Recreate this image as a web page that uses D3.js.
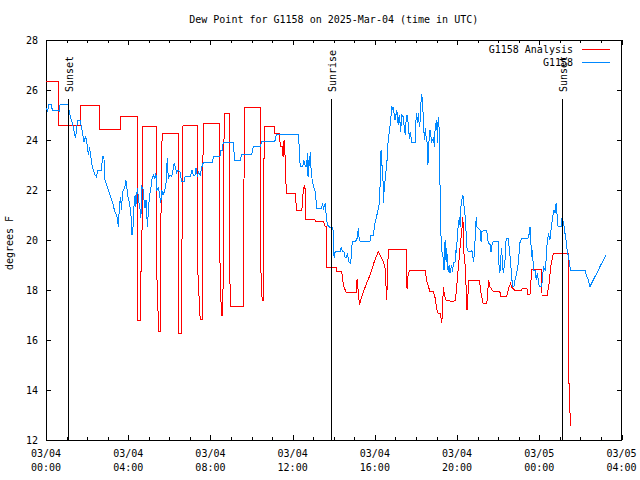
<!DOCTYPE html>
<html><head><meta charset="utf-8">
<script src="https://cdn.jsdelivr.net/npm/d3@7"></script>
<style>
body{margin:0;background:#fff}
svg{display:block}
text{font-family:"DejaVu Sans Mono",monospace;font-size:10px;fill:#000}
</style>
</head><body><svg id="c" width="640" height="480"></svg>
<script>
const chartTitle = "Dew Point for G1158 on 2025-Mar-04 (time in UTC)";
const yAxisLabel = "degrees F";
const startTime = "2025-03-04T00:00:00Z";
const endTime = "2025-03-05T04:00:00Z";
const yTicks = [12, 14, 16, 18, 20, 22, 24, 26, 28];
const seriesNames = ["G1158 Analysis", "G1158"];

// minutes after 2025-03-04 00:00 UTC
const anaMinutes = [0,37,37,100,100,156,157,217,219,267,267,275,275,280,281,324,324,329,335,335,339,386,387,388,395,396,400,443,443,450,457,457,459,506,506,508,512,515,518,520,535,535,539,577,577,579,625,625,631,634,637,668,668,683,683,685,691,692,695,697,700,702,727,732,747,750,754,757,759,785,787,810,815,819,820,848,849,863,867,871,877,907,908,911,915,923,934,946,958,970,975,985,991,994,997,999,1051,1052,1054,1057,1061,1107,1112,1115,1121,1131,1136,1141,1145,1150,1153,1155,1157,1160,1163,1168,1188,1195,1199,1203,1209,1214,1217,1219,1224,1229,1231,1234,1265,1270,1276,1287,1292,1296,1306,1325,1327,1345,1351,1356,1361,1370,1389,1390,1404,1405,1413,1418,1447,1448,1463,1468,1474,1481,1524,1525,1526,1529,1530,1531];
const anaValues = [26.35,26.35,24.6,24.6,25.39,25.39,24.43,24.43,24.95,24.95,16.8,16.8,18.73,18.73,24.56,24.56,18.4,16.35,16.35,20.33,24.27,24.27,20.3,16.27,16.27,18.4,24.6,24.6,18.8,16.84,16.84,20.77,24.67,24.67,22.84,19.0,17.0,17.0,18.8,25.07,25.07,19.33,17.36,17.36,19.33,25.3,25.3,19.53,17.6,17.6,24.53,24.53,24.27,24.27,23.93,23.73,23.73,23.33,24.0,23.73,22.4,21.87,21.87,21.2,21.2,21.8,22.2,22.0,20.83,20.83,20.73,20.73,20.53,20.53,18.9,18.9,18.76,18.76,18.33,18.07,17.9,17.9,18.43,18.0,17.4,17.8,18.2,18.6,19.12,19.53,19.4,19.13,18.8,17.6,18.4,19.63,19.63,19.2,18.03,18.6,18.77,18.77,18.33,18.2,17.93,17.93,17.68,17.2,17.07,17.07,16.88,16.67,17.0,18.13,17.8,17.6,17.53,17.6,18.13,18.8,19.73,20.4,20.93,19.6,18.93,17.2,17.6,18.4,18.4,17.87,17.47,17.47,18.4,18.13,17.93,17.93,17.76,17.76,18.08,18.27,18.08,17.97,17.97,18.07,18.07,17.84,17.84,18.83,18.83,17.8,17.8,18.2,19.0,19.47,19.47,17.73,14.27,14.27,12.56,12.56];

const obsMinutes = [2,4,9,15,19,39,41,65,66,71,77,83,86,92,100,102,105,111,116,120,124,127,132,134,138,143,147,152,163,164,169,172,179,187,194,201,206,209,211,213,217,221,222,225,230,233,236,238,244,247,249,251,254,257,260,262,265,267,271,275,277,280,283,286,289,292,294,296,299,302,306,309,313,318,321,323,328,331,335,338,342,347,350,354,357,362,367,371,374,379,381,386,391,396,403,406,421,426,430,435,438,442,445,450,455,459,487,488,508,510,516,517,546,551,567,572,601,605,625,630,668,673,737,742,750,752,757,761,763,765,767,770,771,774,777,781,785,791,805,807,810,815,817,819,821,829,837,839,841,844,858,863,865,870,873,877,880,883,888,891,894,907,912,914,917,946,948,956,959,963,968,973,976,978,981,983,985,987,990,995,999,1004,1007,1009,1012,1014,1016,1019,1024,1025,1028,1031,1033,1035,1039,1043,1046,1049,1052,1055,1058,1061,1063,1068,1078,1079,1081,1084,1087,1090,1092,1094,1097,1100,1102,1105,1107,1110,1113,1115,1117,1121,1126,1131,1134,1136,1141,1142,1145,1148,1150,1152,1155,1158,1160,1162,1165,1168,1170,1172,1174,1177,1179,1184,1187,1189,1194,1197,1199,1200,1203,1207,1209,1211,1214,1217,1219,1221,1224,1227,1229,1233,1243,1245,1248,1251,1253,1256,1258,1262,1267,1270,1272,1277,1287,1289,1292,1297,1299,1302,1306,1320,1322,1325,1327,1330,1333,1335,1340,1343,1346,1349,1352,1356,1359,1362,1366,1369,1374,1378,1381,1383,1388,1407,1411,1413,1415,1418,1420,1423,1428,1431,1434,1437,1440,1447,1449,1452,1457,1460,1462,1467,1470,1471,1473,1476,1479,1483,1486,1489,1491,1493,1495,1505,1506,1508,1510,1513,1515,1518,1520,1525,1527,1531,1534,1574,1577,1583,1588,1593,1600,1608,1617,1627,1635];
const obsValues = [25.27,25.13,25.44,25.42,25.17,25.16,25.42,25.42,25.27,24.93,24.67,24.27,24.07,24.77,24.77,24.6,24.4,23.93,24.16,23.8,23.4,23.72,23.2,23.0,22.8,22.6,22.53,22.8,22.8,23.33,23.33,22.4,22.12,21.8,21.52,21.12,21.0,20.8,20.53,21.0,21.73,21.2,21.6,22.0,22.08,22.4,22.12,21.8,21.48,21.07,20.88,20.2,20.53,21.4,21.8,21.32,21.8,22.07,21.52,21.2,20.87,22.13,22.07,21.6,21.27,21.6,21.07,20.53,21.2,21.73,22.07,22.4,22.6,22.47,22.67,22.0,22.07,21.87,21.47,22.0,21.8,22.0,22.2,23.27,22.47,22.6,22.53,22.8,23.07,22.87,22.67,22.8,22.73,22.33,22.33,22.53,22.53,22.8,22.6,22.6,22.87,22.53,22.72,22.6,22.92,23.09,23.09,23.33,23.36,23.6,23.6,23.91,23.91,23.2,23.2,23.44,23.44,23.73,23.73,23.95,23.95,24.24,24.24,22.96,22.96,23.2,22.96,22.96,23.48,22.53,23.2,22.96,23.53,22.8,22.4,22.13,22.0,21.27,21.27,21.49,21.27,21.47,21.13,20.93,20.6,20.51,20.51,20.28,19.27,19.53,19.53,19.73,19.53,19.52,19.32,19.32,19.47,19.16,19.07,19.28,19.93,19.97,20.47,20.08,19.96,19.96,20.2,20.2,20.6,20.8,21.13,21.47,22.4,23.6,22.93,23.0,21.47,22.0,22.4,23.07,24.0,24.53,24.93,25.36,25.2,25.33,25.08,24.8,25.2,25.07,24.6,25.0,24.8,24.33,25.0,24.93,24.47,24.2,25.0,25.0,24.53,24.03,24.33,23.92,23.92,24.4,25.07,24.67,25.07,24.53,24.73,25.4,25.84,25.32,24.53,24.0,24.48,24.07,23.87,23.0,23.8,24.4,23.93,24.07,23.73,24.53,24.8,23.87,24.93,24.4,22.4,20.53,19.53,19.47,19.13,18.8,20.0,19.13,19.67,19.0,18.73,19.0,18.67,19.0,18.73,19.07,19.13,19.6,19.47,20.0,20.53,20.93,20.53,21.33,21.6,21.8,21.6,21.2,20.93,20.13,19.67,19.53,19.57,19.47,19.13,19.53,20.13,20.93,20.53,20.47,20.4,19.93,20.33,20.37,20.37,20.0,19.87,19.8,19.53,19.8,19.96,19.96,19.07,18.67,19.2,19.67,19.0,18.67,19.2,20.0,20.07,20.07,19.73,19.13,18.6,18.13,18.13,18.4,18.67,19.0,19.47,19.87,20.07,20.07,20.27,20.53,20.0,19.32,19.6,18.8,18.8,18.4,18.67,18.4,18.13,18.13,18.4,18.93,18.8,19.2,19.73,20.27,20.07,20.0,20.27,20.6,20.93,21.2,21.07,21.47,21.2,20.8,20.53,20.53,20.87,20.8,20.73,20.48,20.27,20.0,19.73,19.33,19.2,18.8,18.77,18.77,18.6,18.4,18.13,18.27,18.47,18.67,18.93,19.2,19.4];

const eventLabels = ["Sunset", "Sunrise", "Sunset"];
const eventMinutes = [65, 832, 1507];

const colors = ["#ff0000", "#0088ff"];
const L = 46, R = 621.5, T = 40, B = 440;

const svg = d3.select("#c");
const t0 = new Date(startTime), t1 = new Date(endTime);
const toDate = m => new Date(t0.getTime() + m * 60000);
const x = d3.scaleUtc().domain([t0, t1]).range([L, R]);
const y = d3.scaleLinear().domain([12, 28]).range([B, T]);

const majorTicks = x.ticks(d3.utcHour.every(4));
const minorTicks = x.ticks(d3.utcHour.every(1));

function clean(g){ g.select(".domain").remove(); g.selectAll("line").attr("stroke","#000").attr("shape-rendering","crispEdges"); }

svg.append("g").attr("transform",`translate(0,${B})`).call(d3.axisBottom(x).tickValues(minorTicks).tickSize(-3).tickFormat("")).call(clean);
svg.append("g").attr("transform",`translate(0,${B})`).call(d3.axisBottom(x).tickValues(majorTicks).tickSize(-5).tickFormat("")).call(clean);
svg.append("g").attr("transform",`translate(0,${T})`).call(d3.axisTop(x).tickValues(minorTicks).tickSize(-3).tickFormat("")).call(clean);
svg.append("g").attr("transform",`translate(0,${T})`).call(d3.axisTop(x).tickValues(majorTicks).tickSize(-5).tickFormat("")).call(clean);
svg.append("g").attr("transform",`translate(${L},0)`).call(d3.axisLeft(y).tickValues(yTicks).tickSize(-5).tickPadding(8)).call(clean);
svg.append("g").attr("transform",`translate(${R},0)`).call(d3.axisRight(y).tickValues(yTicks).tickSize(-5).tickFormat("")).call(clean);

const fmtD = d3.utcFormat("%m/%d"), fmtT = d3.utcFormat("%H:%M");
const xl = svg.append("g");
majorTicks.forEach(t => {
  xl.append("text").attr("x", x(t)).attr("y", 457).attr("text-anchor","middle").text(fmtD(t));
  xl.append("text").attr("x", x(t)).attr("y", 471).attr("text-anchor","middle").text(fmtT(t));
});

svg.append("rect").attr("x",L+0.5).attr("y",T+0.5).attr("width",R-L-0.5).attr("height",B-T)
  .attr("fill","none").attr("stroke","#000").attr("shape-rendering","crispEdges");

// data
const line = d3.line().x(d => x(d[0])).y(d => y(d[1]));
const ana = anaMinutes.map((m,i) => [toDate(m), anaValues[i]]);
const obs = obsMinutes.map((m,i) => [toDate(m), obsValues[i]]);
svg.append("path").attr("d", line(ana)).attr("fill","none").attr("stroke",colors[0]).attr("stroke-width",1).attr("shape-rendering","crispEdges");
svg.append("path").attr("d", line(obs)).attr("fill","none").attr("stroke",colors[1]).attr("stroke-width",1).attr("shape-rendering","crispEdges");

// sunrise / sunset markers
const ev = svg.append("g");
eventMinutes.forEach((m,i) => {
  const ex = Math.round(x(toDate(m))) + 0.5;
  ev.append("line").attr("x1",ex).attr("x2",ex).attr("y1",B).attr("y2",B - 0.852*(B-T))
    .attr("stroke","#000").attr("shape-rendering","crispEdges");
  ev.append("text").attr("transform",`translate(${ex+4},${B - 0.87*(B-T)}) rotate(-90)`).text(eventLabels[i]);
});

// legend
const lg = svg.append("g");
seriesNames.forEach((n,i) => {
  const ly = 49.5 + i*13;
  lg.append("text").attr("x",573).attr("y",ly).attr("dy","0.35em").attr("text-anchor","end").text(n);
  lg.append("line").attr("x1",582).attr("x2",610).attr("y1",ly).attr("y2",ly).attr("stroke",colors[i]).attr("shape-rendering","crispEdges");
});

// title and y label
svg.append("text").attr("x",(L+R)/2).attr("y",19).attr("dy","0.35em").attr("text-anchor","middle").text(chartTitle);
svg.append("text").attr("transform",`translate(13,243) rotate(-90)`).attr("text-anchor","middle").text(yAxisLabel);
</script></body></html>
